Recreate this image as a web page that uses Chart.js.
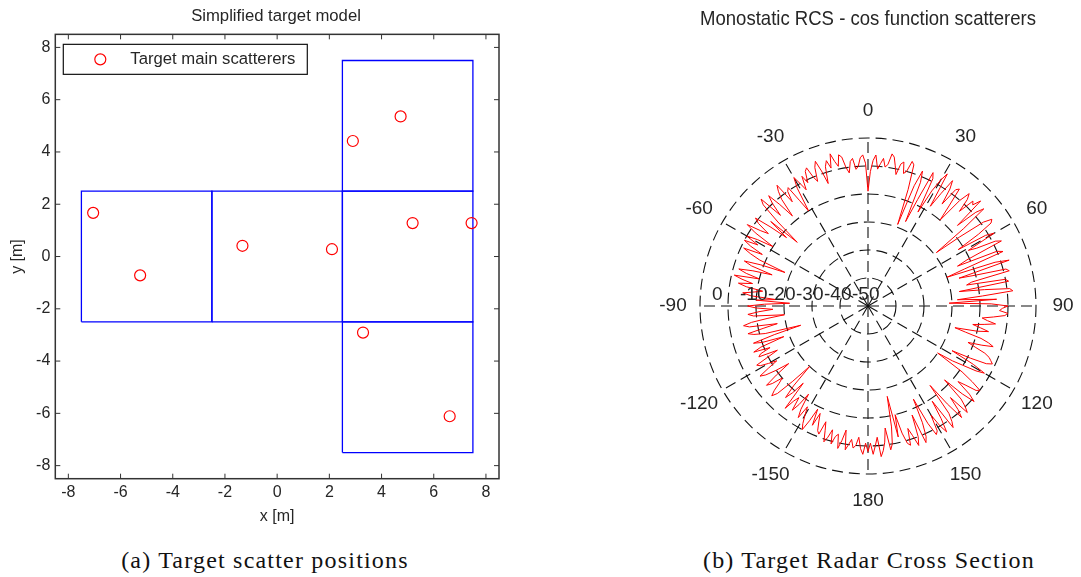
<!DOCTYPE html>
<html>
<head>
<meta charset="utf-8">
<script src="https://cdn.jsdelivr.net/npm/chart.js@4.4.1/dist/chart.umd.min.js"></script>
<style>
  html, body { margin: 0; padding: 0; background: #fff; overflow: hidden; }
  body { width: 1081px; height: 577px; position: relative; }
  canvas { position: absolute; top: 0; }
  #graficoPosicoes { left: 0; }
  #graficoRcs { left: 650px; }
  .legenda-fig {
    position: absolute; top: 546px; line-height: 28px;
    font-family: 'Liberation Serif', 'Times New Roman', serif;
    font-size: 24px; letter-spacing: 1.2px; color: #111;
    white-space: nowrap; transform: translateX(-50%);
  }
</style>
</head>
<body>
<canvas id="graficoPosicoes" width="552" height="530"></canvas>
<canvas id="graficoRcs" width="430" height="530"></canvas>
<div class="legenda-fig" style="left:265px">(a) Target scatter positions</div>
<div class="legenda-fig" style="left:869px">(b) Target Radar Cross Section</div>
<script>
// Posições dos espalhadores principais do alvo [m]
const espalhadoresX = [-7.05, -5.25, -1.33, 2.1, 2.9, 4.73, 5.19, 7.45, 3.29, 6.61];
const espalhadoresY = [1.67, -0.72, 0.41, 0.28, 4.42, 5.36, 1.28, 1.28, -2.91, -6.11];

// Caixas do modelo simplificado: [xmin, xmax] e [ymin, ymax]
const caixasX = [[-7.5, -2.5], [-2.5, 2.5], [2.5, 7.5], [2.5, 7.5], [2.5, 7.5]];
const caixasY = [[-2.5, 2.5], [-2.5, 2.5], [-2.5, 2.5], [2.5, 7.5], [-7.5, -2.5]];

const ticksX = [-8, -6, -4, -2, 0, 2, 4, 6, 8];
const ticksY = [-8, -6, -4, -2, 0, 2, 4, 6, 8];

// RCS monostática [dB], um valor por grau (0 ... 359), sentido horário
const rcsDb = [
    -9, -2, 2, 4, -1, 1, 3, 0, 1, 5, 4, 1, -2, 2, 3, -1, 0, 4, 3, -6, -19, -4, 2, -2, -17, -8, 3, 1, -12, -3,
    2, 5, -8, -2, 4, 1, -5, 2, 3, -4, -10, 0, 4, 2, -3, 3, 2, 5, -7, 1, 4, -6, -19, -9, 1, 4, 3, -3, -12, -1,
    2, -9, -6, 1, 3, -11, -15, 0, 2, -13, -20, -2, 3, -16, -10, 1, 2, -12, -14, 0, 1, -17, -8, 1, 2, -9, -18, -4, -21, -6,
    0, -2, -3, 0, -1, -5, -9, -7, -4, -8, -12, -9, -6, -10, -18, -14, -8, -5, -3, -7, -12, -9, -5, -3, -2, -1, -3, -9, -16, -7,
    -2, -5, -10, -14, -20, -9, -4, 0, -1, -5, -8, -2, 1, -4, -12, -3, 0, 2, -6, -1, 2, -5, -14, -2, 1, 3, -9, -2, 3, 0,
    -5, 1, 2, -3, -13, -4, 1, 3, -8, 0, 3, -1, -4, 2, 1, -3, -10, -2, -17, -6, 0, 2, -6, -1, 2, 4, -3, 0, 3, -1,
    2, -1, 3, 1, -3, 0, 1, -2, 0, 2, -5, -1, 2, -3, -2, 1, -4, -1, 1, -3, -6, -1, -2, -5, -8, -3, -9, -4, 0, -2,
    -5, -8, -3, -6, -12, -7, -4, -9, -7, -3, -14, -9, -6, -11, -20, -12, -5, -3, -5, -8, -10, -6, -4, -9, -15, -10, -6, -4, -8, -12,
    -9, -6, -5, -10, -14, -7, -8, -12, -6, -9, -18, -10, -7, -15, -25, -12, -8, -6, -12, -17, -7, -5, -8, -14, -20, -9, -7, -11, -16, -10,
    -7, -13, -22, -10, -17, -8, -5, -9, -12, -6, -3, -8, -4, -1, -10, -5, -2, -7, -14, -6, -3, -9, -18, -8, -4, -1, -8, -3, 0, -5,
    0, -4, -10, -2, 2, -3, -6, -1, 1, -5, -12, -4, -16, -6, 2, 4, -5, 0, 3, -2, -8, -1, 2, 4, -4, 0, 1, -5, -10, -1,
    3, 0, -3, 2, -1, 3, 4, 0, -2, 3, 5, 1, -4, 2, 4, 1, 6, 3, 1, 5, 4, 0, -2, 2, 3, -1, 0, 3, 4, 1
];
const angulosRcs = rcsDb.map((_, i) => i);

const angulosMarcados = [0, 30, 60, 90, 120, 150, 180, -150, -120, -90, -60, -30];
const rotulosRaio = [0, -10, -20, -30, -40, -50];

const FONTE = "'Liberation Sans', Arial, sans-serif";
const COR_TEXTO = '#262626';

// Moldura estilo MATLAB com marcas para dentro
const molduraEixos = {
    id: 'molduraEixos',
    afterDatasetsDraw(chart) {
        const { ctx, chartArea: a, scales } = chart;
        ctx.save();
        ctx.strokeStyle = '#333';
        ctx.lineWidth = 1.5;
        ctx.strokeRect(a.left, a.top, a.right - a.left, a.bottom - a.top);
        ctx.lineWidth = 1;
        ctx.beginPath();
        ticksX.forEach(v => {
            const px = scales.x.getPixelForValue(v);
            ctx.moveTo(px, a.bottom); ctx.lineTo(px, a.bottom - 5);
            ctx.moveTo(px, a.top); ctx.lineTo(px, a.top + 5);
        });
        ticksY.forEach(v => {
            const py = scales.y.getPixelForValue(v);
            ctx.moveTo(a.left, py); ctx.lineTo(a.left + 5, py);
            ctx.moveTo(a.right, py); ctx.lineTo(a.right - 5, py);
        });
        ctx.stroke();
        ctx.restore();
    }
};

// Legenda dentro da área do gráfico
const legendaInterna = {
    id: 'legendaInterna',
    afterDraw(chart) {
        const { ctx, chartArea } = chart;
        const ds = chart.data.datasets[0];
        const x0 = chartArea.left + 8, y0 = chartArea.top + 10;
        ctx.save();
        ctx.fillStyle = '#fff';
        ctx.fillRect(x0, y0, 244, 30);
        ctx.strokeStyle = '#111';
        ctx.lineWidth = 1.2;
        ctx.strokeRect(x0, y0, 244, 30);
        ctx.beginPath();
        ctx.arc(x0 + 37, y0 + 15, 5.5, 0, Math.PI * 2);
        ctx.strokeStyle = ds.borderColor;
        ctx.lineWidth = ds.borderWidth;
        ctx.stroke();
        ctx.fillStyle = COR_TEXTO;
        ctx.font = '16.7px ' + FONTE;
        ctx.textBaseline = 'middle';
        ctx.fillText(ds.label, x0 + 67, y0 + 15);
        ctx.restore();
    }
};

// Rótulos de ângulo e de raio do gráfico polar
const rotulosPolares = {
    id: 'rotulosPolares',
    afterDraw(chart) {
        const r = chart.scales.r;
        const ctx = chart.ctx;
        ctx.save();
        ctx.font = '19px ' + FONTE;
        ctx.fillStyle = COR_TEXTO;
        ctx.textAlign = 'center';
        ctx.textBaseline = 'middle';
        const raioExterno = r.getDistanceFromCenterForValue(r.max);
        angulosMarcados.forEach(a => {
            const idx = angulosRcs.indexOf((a + 360) % 360);
            const p = r.getPointPosition(idx, raioExterno + 27);
            ctx.fillText(String(a), p.x, p.y);
        });
        ctx.textAlign = 'left';
        rotulosRaio.forEach(v => {
            const d = r.getDistanceFromCenterForValue(v);
            ctx.fillText(String(v), r.xCenter - d - 16, r.yCenter - 11);
        });
        ctx.restore();
    }
};

const pontos = espalhadoresX.map((x, i) => ({ x, y: espalhadoresY[i] }));

const datasetsCaixas = caixasX.map((cx, i) => {
    const cy = caixasY[i];
    return {
        label: 'caixa ' + (i + 1),
        data: [
            { x: cx[0], y: cy[0] }, { x: cx[1], y: cy[0] },
            { x: cx[1], y: cy[1] }, { x: cx[0], y: cy[1] },
            { x: cx[0], y: cy[0] }
        ],
        showLine: true,
        borderColor: '#0000ff',
        borderWidth: 1.3,
        pointRadius: 0,
        fill: false,
        tension: 0
    };
});

new Chart(document.getElementById('graficoPosicoes'), {
    type: 'scatter',
    data: {
        datasets: [{
            label: 'Target main scatterers',
            data: pontos,
            pointStyle: 'circle',
            pointRadius: 5.5,
            borderColor: '#ff0000',
            backgroundColor: 'rgba(0,0,0,0)',
            borderWidth: 1.2
        }, ...datasetsCaixas]
    },
    options: {
        responsive: false,
        animation: false,
        layout: { padding: 0 },
        plugins: {
            legend: { display: false },
            tooltip: { enabled: false },
            title: {
                display: true,
                text: 'Simplified target model',
                color: COR_TEXTO,
                font: { family: FONTE, size: 16.7, weight: 'normal' },
                padding: { top: 6, bottom: 8.3 }
            }
        },
        scales: {
            x: {
                type: 'linear', min: -8.5, max: 8.5,
                grid: { display: false, drawTicks: false },
                border: { display: false },
                afterBuildTicks: s => { s.ticks = ticksX.map(v => ({ value: v })); },
                afterFit: s => { s.height = 51.3; },
                ticks: { color: COR_TEXTO, font: { family: FONTE, size: 16 }, padding: 4 },
                title: { display: true, text: 'x [m]', color: COR_TEXTO, font: { family: FONTE, size: 16 }, padding: { top: 0, bottom: 3.5 } }
            },
            y: {
                type: 'linear', min: -8.5, max: 8.5,
                grid: { display: false, drawTicks: false },
                border: { display: false },
                afterBuildTicks: s => { s.ticks = ticksY.map(v => ({ value: v })); },
                afterFit: s => { s.width = 55.3; },
                ticks: { color: COR_TEXTO, font: { family: FONTE, size: 16 }, padding: 5 },
                title: { display: true, text: 'y [m]', color: COR_TEXTO, font: { family: FONTE, size: 16 }, padding: { top: 8, bottom: 0 } }
            },
            // margem direita vazia, para o título ficar centrado como no original
            margem: {
                type: 'linear', position: 'right',
                grid: { display: false, drawTicks: false },
                border: { display: false },
                ticks: { display: false },
                afterFit: s => { s.width = 53; }
            }
        }
    },
    plugins: [molduraEixos, legendaInterna]
});

new Chart(document.getElementById('graficoRcs'), {
    type: 'radar',
    data: {
        labels: angulosRcs,
        datasets: [{
            label: 'RCS',
            data: rcsDb,
            borderColor: '#ff0000',
            borderWidth: 1,
            pointRadius: 0,
            fill: false,
            tension: 0
        }]
    },
    options: {
        responsive: false,
        animation: false,
        layout: { padding: { left: 50, right: 44, top: 0, bottom: 55 } },
        plugins: {
            legend: { display: false },
            tooltip: { enabled: false },
            title: {
                display: true,
                text: 'Monostatic RCS - cos function scatterers',
                color: COR_TEXTO,
                font: { family: FONTE, size: 19.8, weight: 'normal' },
                padding: { top: 8.1, bottom: 107.1 }
            }
        },
        scales: {
            r: {
                min: -50, max: 10,
                ticks: { display: false, stepSize: 10 },
                pointLabels: { display: false },
                grid: { circular: true, color: '#111', lineWidth: 1.1 },
                border: { dash: [11, 6] },
                angleLines: {
                    display: true,
                    color: c => (c.index % 30 === 0 ? '#111' : 'rgba(0,0,0,0)'),
                    lineWidth: c => (c.index % 30 === 0 ? 1.1 : 0),
                    borderDash: [11, 6]
                }
            }
        }
    },
    plugins: [rotulosPolares]
});
</script>
</body>
</html>
